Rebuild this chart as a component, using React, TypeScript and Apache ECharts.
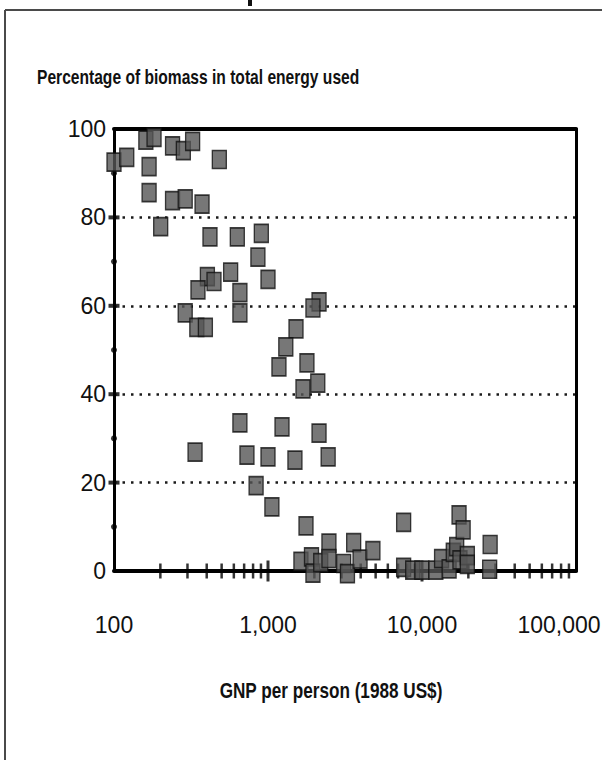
import React, { useEffect, useRef } from "react";
import * as echarts from "echarts";

// GNP per person (1988 US$) and share of biomass in total energy used (%)
const gnpPerPerson = [
  100, 121, 161, 182, 169, 169, 240, 282, 324, 483,
  240, 290, 373, 201, 420, 632, 905, 860, 572, 404,
  446, 351, 657, 657, 290, 345, 392, 1000,
  2145, 1958, 1520, 1305, 1178, 1790, 2105, 1687, 657, 1233,
  2145, 730, 1000, 1496, 2458, 837, 336, 1060, 1765,
  1636, 1916, 1958, 2200, 2487, 2487, 3100, 3280, 3600, 3960, 4800,
  7600, 7600, 8700, 9980, 12300, 13400, 15000, 15960, 16800, 17400,
  18500, 17640, 19700, 19700, 27700, 27500,
];
const biomassShare = [
  92.5, 93.6, 97.5, 98.1, 91.5, 85.6, 96.2, 95.1, 97.2, 93.1,
  83.8, 84.2, 83.0, 77.9, 75.6, 75.6, 76.4, 71.0, 67.6, 66.6,
  65.5, 63.6, 63.0, 58.4, 58.4, 55.1, 55.1, 66.0,
  60.9, 59.5, 54.8, 50.7, 46.2, 47.1, 42.5, 41.2, 33.5, 32.6,
  31.2, 26.2, 25.8, 25.1, 25.8, 19.3, 26.9, 14.5, 10.2,
  2.2, 3.2, -0.5, 1.9, 6.3, 2.8, 1.7, -0.6, 6.4, 2.7, 4.6,
  11.0, 0.8, 0.2, 0.2, 0.2, 2.8, 0.5, 4.2, 5.5, 12.7,
  9.3, 2.5, 3.5, 1.5, 6.0, 0.4,
];

const xMinorTicks = [
  200, 300, 400, 500, 600, 700, 800, 900,
  2000, 3000, 4000, 5000, 6000, 7000, 8000, 9000,
  20000, 30000, 40000, 50000, 60000, 70000, 80000, 90000,
];
const xMajorTicks = [1000, 10000];
const yMajorTicks = [20, 40, 60, 80];
const yMinorTicks = [10, 30, 50, 70, 90];

const titleText = "Percentage of biomass in total energy used";
const xAxisTitle = "GNP per person (1988 US$)";

const FONT = "'Liberation Sans', Arial, Helvetica, sans-serif";

export default function App() {
  const ref = useRef<HTMLDivElement>(null);
  useEffect(() => {
    document.body.style.margin = "0";
    const chart = echarts.init(ref.current!, null, { renderer: "svg" });
    const points = gnpPerPerson.map((g, i) => [g, biomassShare[i]]);
    chart.setOption({
      animation: false,
      backgroundColor: "#ffffff",
      grid: {
        left: 114,
        top: 129,
        right: 26,
        bottom: 189,
        containLabel: false,
        outerBoundsMode: "none",
      },
      xAxis: [
        {
          type: "log",
          logBase: 10,
          min: 100,
          max: 100000,
          axisLine: { show: true, onZero: false, lineStyle: { color: "#000", width: 4 } },
          axisTick: { show: false },
          splitLine: { show: false },
          axisLabel: {
            margin: 42,
            fontFamily: FONT,
            fontSize: 23,
            color: "#111",
            formatter: (v: number) =>
              v >= 100000 ? "{m|" + Number(v).toLocaleString("en-US") + "}" : Number(v).toLocaleString("en-US"),
            rich: {
              m: { fontFamily: FONT, fontSize: 23, color: "#111", padding: [0, 34, 6, 0] },
            },
          },
        },
        {
          type: "log",
          logBase: 10,
          min: 100,
          max: 100000,
          position: "top",
          axisLine: { show: true, onZero: false, lineStyle: { color: "#000", width: 4 } },
          axisTick: { show: false },
          axisLabel: { show: false },
          splitLine: { show: false },
        },
      ],
      yAxis: [
        {
          type: "value",
          min: 0,
          max: 100,
          interval: 20,
          axisLine: { show: true, onZero: false, lineStyle: { color: "#000", width: 3 } },
          axisTick: { show: false },
          axisLabel: { margin: 8, fontFamily: FONT, fontSize: 23, color: "#111" },
          splitLine: {
            show: true,
            lineStyle: { color: "#1a1a1a", width: 2.5, type: [2.5, 6] },
          },
        },
        {
          type: "value",
          min: 0,
          max: 100,
          position: "right",
          axisLine: { show: true, onZero: false, lineStyle: { color: "#000", width: 3 } },
          axisTick: { show: false },
          axisLabel: { show: false },
          splitLine: { show: false },
        },
      ],
      graphic: [
        { type: "line", shape: { x1: 5, y1: 10, x2: 602, y2: 10 }, style: { stroke: "#4a4a4a", lineWidth: 2 } },
        { type: "line", shape: { x1: 5, y1: 10, x2: 5, y2: 760 }, style: { stroke: "#4a4a4a", lineWidth: 2 } },
        { type: "rect", shape: { x: 248, y: 0, width: 4, height: 6 }, style: { fill: "#111" } },
        {
          type: "text",
          x: 37,
          y: 77,
          scaleX: 0.78,
          style: {
            text: titleText,
            font: "bold 20px " + FONT,
            fill: "#111",
            align: "left",
            verticalAlign: "middle",
          },
        },
        {
          type: "text",
          x: 331,
          y: 690,
          scaleX: 0.78,
          style: {
            text: xAxisTitle,
            font: "bold 22px " + FONT,
            fill: "#111",
            align: "center",
            verticalAlign: "middle",
          },
        },
      ],
      series: [
        {
          type: "scatter",
          silent: true,
          clip: false,
          symbol: "rect",
          symbolSize: [2.5, 15],
          itemStyle: { color: "#000" },
          data: xMinorTicks.map((v) => [v, 0]),
          z: 3,
        },
        {
          type: "scatter",
          silent: true,
          clip: false,
          symbol: "rect",
          symbolSize: [3, 21],
          itemStyle: { color: "#000" },
          data: xMajorTicks.map((v) => [v, 0]),
          z: 3,
        },
        {
          type: "scatter",
          silent: true,
          clip: false,
          symbol: "rect",
          symbolSize: [11, 4],
          itemStyle: { color: "#000" },
          data: yMajorTicks.map((v) => [100, v]),
          z: 3,
        },
        {
          type: "scatter",
          silent: true,
          clip: false,
          symbol: "circle",
          symbolSize: 6,
          itemStyle: { color: "#000" },
          data: yMinorTicks.map((v) => [100, v]),
          z: 3,
        },
        {
          type: "scatter",
          clip: false,
          symbol: "rect",
          symbolSize: [14, 18],
          itemStyle: { color: "#555555", borderColor: "#111", borderWidth: 1.5 },
          data: points,
          z: 5,
        },
      ],
    });
    return () => chart.dispose();
  }, []);
  return <div ref={ref} style={{ width: 602, height: 760 }} />;
}
